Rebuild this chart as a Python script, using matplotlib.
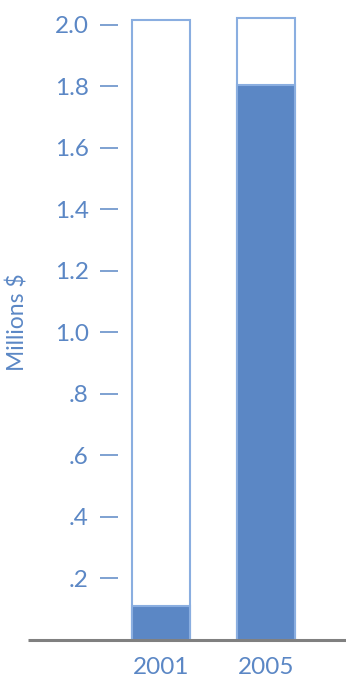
import numpy as np
import matplotlib
matplotlib.use("Agg")
import matplotlib.pyplot as plt

plt.rcParams['font.family'] = ['Lato', 'DejaVu Sans']

years = ['2001', '2005']
totals = [2.015, 2.02]
filled = [0.11, 1.805]
ytick_vals = [0.2, 0.4, 0.6, 0.8, 1.0, 1.2, 1.4, 1.6, 1.8, 2.0]
ytick_labels = ['.2', '.4', '.6', '.8', '1.0', '1.2', '1.4', '1.6', '1.8', '2.0']

text_col = '#5b87c5'
fill_col = '#5b87c5'
edge_col = '#8aaee0'

W, H = 346, 679
fig = plt.figure(figsize=(W / 100, H / 100), dpi=100)
# axes spans x 118..346 px, y 0..640 px from top
ax = fig.add_axes([118 / W, 39 / H, 228 / W, 640 / H])

x = np.arange(len(years))
ax.bar(x, totals, width=0.552, color='white', edgecolor=edge_col, linewidth=1.5)
ax.bar(x, filled, width=0.552, color=fill_col, edgecolor=edge_col, linewidth=1.5)

ax.set_xlim(-0.4095, 1.762)
ax.set_ylim(0, 2.08)

for s in ['top', 'right', 'left', 'bottom']:
    ax.spines[s].set_visible(False)

# baseline extends left past the tick marks
ax.plot([-(118 - 28) / 228, 1], [0, 0], transform=ax.transAxes, clip_on=False,
        color='#808080', lw=2.2, solid_capstyle='butt')

ax.set_yticks(ytick_vals)
ax.set_yticklabels(ytick_labels)
ax.tick_params(axis='y', direction='out', length=13, width=1.1, color=text_col,
               labelcolor=text_col, labelsize=17.5, pad=8)
ax.set_xticks(x)
ax.set_xticklabels(years)
ax.tick_params(axis='x', length=0, labelcolor=text_col, labelsize=17.5, pad=12)

ax.set_ylabel('Millions $', color=text_col, fontsize=16.5)
ax.yaxis.set_label_coords((29 - 118) / 228, (640 - 322) / 640)

fig.savefig('out.png', dpi=100)
